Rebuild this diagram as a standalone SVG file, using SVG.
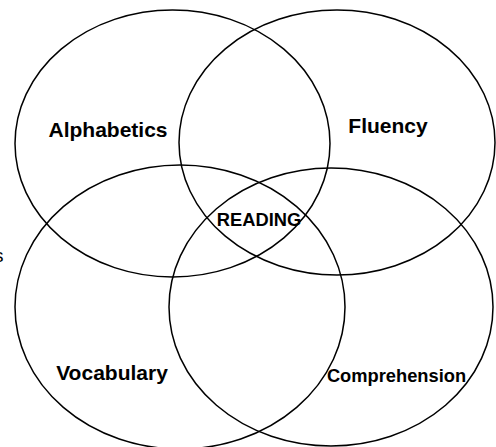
<svg xmlns="http://www.w3.org/2000/svg" width="496" height="447" viewBox="0 0 496 447">
<style>
.c{fill:none;stroke:#000;stroke-width:1.5}
.t{font-family:"Liberation Sans",Arial,sans-serif;font-weight:bold;fill:#000;text-anchor:middle}
</style>
<rect width="496" height="447" fill="#fff"/>
<g id="alphabetics"><ellipse class="c" cx="172.5" cy="143.5" rx="157.5" ry="133.5"/><text class="t" x="108" y="137" font-size="21">Alphabetics</text></g>
<g id="fluency"><ellipse class="c" cx="337" cy="142.5" rx="158" ry="132.5"/><text class="t" x="388" y="133" font-size="21">Fluency</text></g>
<g id="vocabulary"><ellipse class="c" cx="180" cy="307" rx="165" ry="142"/><text class="t" x="112" y="380" font-size="21">Vocabulary</text></g>
<g id="comprehension"><ellipse class="c" cx="331" cy="307" rx="162" ry="139"/><text class="t" x="396.5" y="382" font-size="18.3">Comprehension</text></g>
<g id="reading"><text class="t" x="259" y="225.5" font-size="18.3">READING</text></g>
<g id="connectors"></g>
<text x="3.5" y="261.5" font-family="Liberation Sans,Arial,sans-serif" font-size="19" text-anchor="end">s</text>
</svg>
